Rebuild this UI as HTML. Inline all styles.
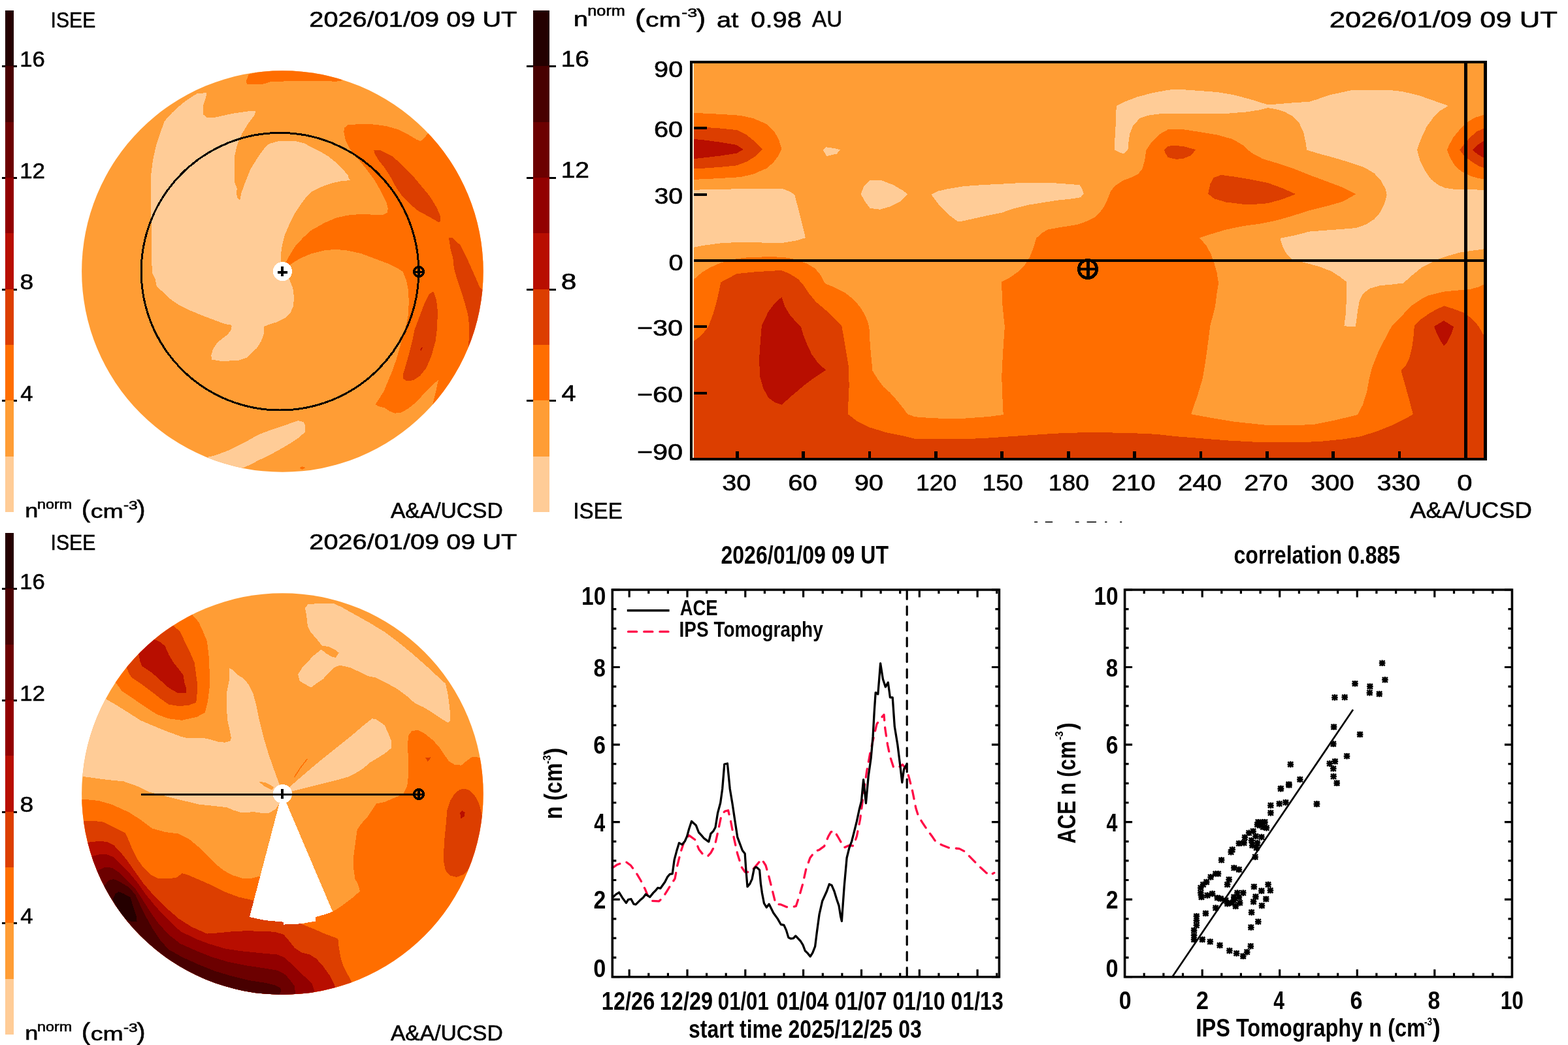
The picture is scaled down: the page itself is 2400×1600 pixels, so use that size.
<!DOCTYPE html>
<html lang="en"><head><meta charset="utf-8"><title>IPS Tomography density</title>
<style>
html,body{margin:0;padding:0;background:#fff;}
body{width:2400px;height:1600px;overflow:hidden;}
svg{display:block;position:absolute;left:0;top:0;}
text{font-family:"Liberation Sans",sans-serif;fill:#000;}
.n{font-family:"Liberation Sans",sans-serif;font-weight:bold;}
</style></head><body>
<svg width="2400" height="1600" viewBox="0 0 2400 1600">
<defs>
<clipPath id="clipTL"><circle cx="432.4" cy="415.5" r="307.3"/></clipPath>
<clipPath id="clipBL"><circle cx="432.4" cy="1215.5" r="307.3"/></clipPath>
<clipPath id="clipMap"><rect x="1058" y="95" width="1216" height="608"/></clipPath>
</defs>
<rect width="2400" height="1600" fill="#fff"/>

<g shape-rendering="crispEdges">
<rect x="3" y="100.3" width="23" height="3" fill="#000"/>
<rect x="3" y="271.0" width="23" height="3" fill="#000"/>
<rect x="3" y="441.7" width="23" height="3" fill="#000"/>
<rect x="3" y="612.3" width="23" height="3" fill="#000"/>
<rect x="8" y="16.00" width="13" height="85.83" fill="#240000"/>
<rect x="8" y="101.33" width="13" height="85.83" fill="#480000"/>
<rect x="8" y="186.67" width="13" height="85.83" fill="#6c0000"/>
<rect x="8" y="272.00" width="13" height="85.83" fill="#920000"/>
<rect x="8" y="357.33" width="13" height="85.83" fill="#b80e00"/>
<rect x="8" y="442.67" width="13" height="85.83" fill="#dc3e00"/>
<rect x="8" y="528.00" width="13" height="85.83" fill="#ff6e00"/>
<rect x="8" y="613.33" width="13" height="85.83" fill="#ff9d35"/>
<rect x="8" y="698.67" width="13" height="85.33" fill="#ffcc97"/>
<g clip-path="url(#clipTL)">
<rect x="100" y="100" width="660" height="640" fill="#ff9d35"/>
<path d="M301.5 143.4L315.6 142.1L315.6 147.2L310.5 163.8L311.2 175.3L316.8 180.4L329.6 179.6L355.1 174.0L380.6 170.2L390.8 170.2L390.3 175.3L380.6 188.0L370.4 204.6L362.8 222.4L358.9 240.3L358.9 278.6L362.8 288.8L361.5 296.4L364.0 304.1L367.3 306.1L369.1 296.4L375.5 278.6L383.2 259.4L395.9 239.0L406.1 225.0L412.5 219.9L426.5 216.1L452.0 216.1L467.3 219.9L468.9 221.2L486.7 230.1L502.0 239.0L514.8 249.2L525.0 259.4L532.7 268.4L533.9 273.5L536.5 276.0L522.4 277.3L507.1 280.6L491.8 286.2L476.5 293.9L468.9 301.5L461.2 311.7L451.0 327.0L443.4 342.3L435.7 360.2L431.9 375.5L430.1 388.3L430.1 401.0L432.4 415.8L443.1 428.1L448.2 440.8L450.0 454.8L449.0 468.9L444.4 479.1L436.7 486.7L424.0 493.1L411.2 496.9L404.1 500.0L403.6 512.2L399.7 522.4L393.4 532.7L378.1 547.4L365.3 551.8L339.8 553.1L324.5 550.5L323.2 544.1L325.8 535.2L332.1 525.0L339.8 518.6L348.7 512.2L353.8 504.6L354.6 499.5L352.6 496.9L344.9 496.4L329.6 490.6L309.2 482.9L288.8 474.5L273.5 466.8L258.2 456.1L248.0 445.9L239.8 438.3L237.8 428.1L233.2 417.9L232.7 400.0L232.7 418.9L231.4 329.6L231.4 265.8L233.9 245.4L239.0 222.4L246.7 199.5L251.8 185.5L263.3 172.7L278.6 158.7L291.3 149.7Z" fill="#ffcc97" />
<path d="M318.1 699.7L329.6 697.2L350.0 689.5L375.5 676.8L395.9 665.3L416.3 657.7L439.3 650.0L455.9 644.1L464.8 646.2L467.3 651.3L466.8 661.5L457.1 670.4L439.3 681.9L418.9 693.4L395.9 704.8L380.6 712.5L371.7 716.3L339.8 721.4Z" fill="#ffcc97" />
<path d="M655.1 204.1L648.7 212.2L643.6 216.1L637.2 213.5L624.5 205.9L609.2 198.2L591.3 193.1L573.5 190.6L553.1 189.8L532.7 191.3L527.0 195.7L526.3 202.0L528.8 214.8L535.2 227.6L545.4 240.3L558.2 255.6L573.5 276.0L583.7 293.9L591.3 309.2L593.9 319.4L592.6 325.8L586.2 328.8L573.5 328.8L553.1 327.8L532.7 329.6L514.8 333.4L496.9 341.1L476.5 352.6L463.8 364.0L451.0 378.1L443.4 390.8L437.8 401.0L432.4 415.8L444.6 404.8L458.7 395.9L476.5 388.3L496.9 383.2L514.8 381.9L532.7 383.7L553.1 388.3L573.5 395.9L593.9 403.6L609.2 411.2L616.8 416.3L621.9 429.1L625.0 444.4L625.8 462.2L625.8 463.8L624.5 484.2L621.9 496.9L616.8 514.8L611.7 532.7L606.6 550.5L600.3 568.4L593.9 583.7L587.5 599.0L581.1 609.2L574.7 618.9L578.6 621.9L588.8 624.5L596.4 629.6L604.1 632.7L614.3 631.6L624.5 625.8L637.2 615.6L650.0 601.5L662.8 588.8L670.9 581.6L667.9 596.4L664.0 611.7L662.2 619.4L757.1 619.4L757.1 204.1Z" fill="#ff6e00" />
<path d="M376.8 124.2L380.6 114.0L431.6 100.0L476.5 100.0L525.0 123.0L514.8 124.7L496.9 124.2L451.0 123.7L412.8 125.5L401.0 129.3L378.1 129.3Z" fill="#ff6e00" />
<path d="M458.2 716.3L462.5 714.3L467.6 716.3L462.5 718.9Z" fill="#ff6e00" />
<path d="M572.2 229.6L582.4 230.1L601.5 239.8L616.8 254.3L632.1 269.6L644.9 284.9L657.7 300.3L667.9 316.8L673.5 329.6L674.5 339.3L670.4 339.8L665.3 336.7L652.6 329.6L638.5 321.9L627.0 311.7L615.6 300.3L606.6 287.5L597.7 270.9L588.8 256.9L578.6 244.1L573.5 235.2Z" fill="#dc3e00" />
<path d="M687.0 364.5L692.1 364.0L704.8 375.5L713.8 393.4L724.0 416.3L734.2 439.3L738.0 443.4L757.1 443.4L757.1 532.7L717.1 531.4L718.4 502.0L716.3 481.6L709.9 458.7L702.3 435.7L695.9 415.3L693.4 400.0L694.6 411.2L693.4 395.9L689.5 380.6Z" fill="#dc3e00" />
<path d="M662.8 446.4L656.4 451.0L650.0 463.8L642.3 484.2L634.7 504.6L630.9 522.4L625.8 542.9L620.7 560.7L616.8 573.5L617.3 579.8L621.9 582.9L632.1 582.4L642.3 576.0L652.6 563.3L660.2 545.4L666.6 522.4L669.1 502.0L669.9 476.5L667.9 458.7L664.0 447.2Z" fill="#dc3e00" />
<path d="M643.1 535.7L645.9 531.1L647.2 532.1L644.4 536.7Z" fill="#b80e00" />
</g>
<circle cx="428.5" cy="415.7" r="212.3" fill="none" stroke="#000" stroke-width="3"/>
<circle cx="432.4" cy="415.6" r="14.6" fill="#fff"/>
<path d="M425 416.5H440M432.1 408V423" stroke="#000" stroke-width="4" fill="none"/>
<circle cx="641" cy="416" r="7.3" fill="none" stroke="#000" stroke-width="3.5"/>
<path d="M632.5 416.3H649.5M641 407.5V424.5" stroke="#000" stroke-width="3.4" fill="none"/>
<rect x="806" y="100.3" width="45" height="3" fill="#000"/>
<rect x="806" y="271.0" width="45" height="3" fill="#000"/>
<rect x="806" y="441.7" width="45" height="3" fill="#000"/>
<rect x="806" y="612.3" width="45" height="3" fill="#000"/>
<rect x="816" y="16.00" width="25" height="85.83" fill="#240000"/>
<rect x="816" y="101.33" width="25" height="85.83" fill="#480000"/>
<rect x="816" y="186.67" width="25" height="85.83" fill="#6c0000"/>
<rect x="816" y="272.00" width="25" height="85.83" fill="#920000"/>
<rect x="816" y="357.33" width="25" height="85.83" fill="#b80e00"/>
<rect x="816" y="442.67" width="25" height="85.83" fill="#dc3e00"/>
<rect x="816" y="528.00" width="25" height="85.83" fill="#ff6e00"/>
<rect x="816" y="613.33" width="25" height="85.83" fill="#ff9d35"/>
<rect x="816" y="698.67" width="25" height="85.33" fill="#ffcc97"/>
<g clip-path="url(#clipMap)">
<rect x="1056" y="93" width="1219.5" height="611.7" fill="#ff9d35"/>
<path d="M1051.0 290.9L1076.5 290.4L1114.8 289.6L1153.1 288.8L1197.7 288.8L1209.2 293.4L1216.3 298.5L1220.7 315.1L1225.8 335.5L1229.6 350.8L1232.9 364.1L1219.4 368.2L1199.0 371.7L1173.5 371.7L1132.7 370.7L1102.0 372.5L1076.5 375.8L1051.0 380.9Z" fill="#ffcc97" />
<path d="M1259.7 229.6L1264.0 225.3L1278.1 227.1L1286.2 229.6L1280.6 235.5L1265.3 239.1Z" fill="#ffcc97" />
<path d="M1317.6 297.2L1322.7 284.5L1331.6 275.6L1349.5 276.3L1367.3 283.2L1382.7 292.1L1389.0 297.2L1377.6 308.7L1362.2 316.4L1346.9 320.7L1331.6 318.9L1324.0 308.7Z" fill="#ffcc97" />
<path d="M1425.5 297.8L1435.7 292.7L1451.0 289.1L1476.5 285.0L1502.0 283.2L1537.8 281.4L1565.8 279.9L1609.2 279.9L1629.6 281.4L1652.6 283.2L1656.4 289.6L1658.9 296.7L1653.8 302.3L1639.8 304.4L1616.8 306.9L1593.9 310.5L1573.5 313.8L1553.1 318.9L1532.7 325.8L1512.2 329.9L1486.7 335.5L1472.7 338.6L1465.1 338.6L1451.0 327.9L1438.3 315.1L1430.6 304.9Z" fill="#ffcc97" />
<path d="M1708.7 162.0L1721.4 155.7L1741.8 148.0L1764.8 142.1L1787.8 137.8L1800.0 136.5L1830.6 138.6L1863.8 141.1L1889.3 145.5L1914.8 152.3L1937.8 159.5L1953.1 159.5L1978.6 157.4L2004.1 155.7L2016.8 151.8L2034.7 145.5L2055.1 141.1L2070.4 137.8L2126.5 137.8L2148.0 140.4L2173.5 146.7L2199.0 155.7L2216.8 162.0L2204.1 169.7L2193.9 179.9L2183.7 193.9L2176.0 210.5L2170.9 223.3L2169.1 229.6L2173.5 246.2L2181.1 261.5L2190.1 274.3L2201.5 283.2L2211.7 287.8L2224.5 289.6L2241.1 290.1L2280.6 290.9L2280.6 380.9L2270.9 381.4L2255.1 383.5L2234.7 386.5L2216.8 391.6L2201.5 396.7L2191.3 402.1L2176.0 409.7L2163.3 419.9L2148.0 433.5L2132.7 435.3L2112.2 437.3L2096.9 441.6L2086.7 449.3L2081.1 459.5L2078.6 472.2L2076.5 487.6L2074.7 500.3L2066.3 500.3L2057.4 499.0L2059.9 479.9L2060.7 462.0L2060.7 431.4L2051.0 423.8L2038.3 415.6L2020.4 408.5L2000.0 402.9L1978.6 397.8L1969.6 389.3L1963.3 377.9L1959.4 365.1L1959.4 364.8L1978.6 361.0L2004.1 354.6L2029.6 352.6L2055.1 350.8L2075.5 349.0L2090.8 343.7L2103.6 335.5L2112.5 325.3L2118.9 312.6L2122.7 298.5L2120.9 289.6L2113.8 276.8L2103.6 265.4L2088.3 256.4L2067.9 249.3L2042.3 241.6L2016.8 234.7L2000.3 229.6L1998.5 218.2L1995.2 202.9L1988.8 188.8L1978.6 177.9L1965.8 171.0L1953.1 167.1L1940.3 165.1L1927.6 168.4L1907.1 171.5L1881.6 173.5L1825.5 173.5L1775.0 174.3L1757.1 176.8L1744.4 181.2L1734.2 192.7L1729.1 205.4L1727.3 218.2L1726.5 228.4L1720.2 235.5L1712.5 233.0L1706.1 229.6L1706.1 218.2L1707.9 187.6Z" fill="#ffcc97" />
<path d="M1051.0 172.8L1076.5 173.5L1102.0 174.8L1132.7 176.8L1153.1 181.2L1173.5 190.1L1186.2 202.9L1192.6 215.6L1196.4 228.4L1191.3 238.6L1183.7 248.8L1173.5 257.7L1153.1 266.6L1132.7 271.2L1102.0 273.0L1076.5 274.3L1051.0 275.1Z" fill="#ff6e00" />
<path d="M2280.6 176.1L2270.9 176.1L2257.7 179.9L2244.9 187.6L2234.7 197.8L2224.5 210.5L2218.1 222.0L2214.8 229.6L2219.4 241.1L2227.0 253.9L2237.2 262.8L2250.0 269.2L2262.8 273.0L2270.9 274.3L2280.6 274.3Z" fill="#ff6e00" />
<path d="M1051.0 436.5L1060.7 428.9L1074.0 417.4L1086.7 409.7L1102.0 402.9L1122.4 397.0L1142.9 394.4L1173.5 393.2L1199.0 393.7L1216.8 397.0L1234.7 403.4L1247.4 411.0L1255.1 419.9L1262.8 434.0L1278.1 440.4L1293.4 448.0L1306.1 458.2L1316.3 469.7L1324.0 482.4L1329.1 495.2L1331.1 508.0L1331.6 525.8L1333.7 548.8L1335.5 567.9L1344.4 581.9L1352.0 592.1L1362.2 601.1L1372.4 612.6L1382.7 625.3L1389.0 634.2L1400.0 638.1L1412.8 639.3L1438.3 640.6L1476.5 640.6L1512.2 638.1L1535.7 635.0L1534.7 615.1L1533.2 576.8L1535.2 538.6L1537.8 500.3L1533.9 462.0L1533.2 431.4L1545.4 425.1L1558.2 416.1L1568.4 405.9L1576.0 394.2L1581.1 381.4L1586.2 364.8L1593.9 357.2L1604.1 351.3L1624.5 347.8L1650.0 343.7L1665.3 338.1L1675.5 333.0L1683.2 325.3L1690.8 315.1L1695.9 303.6L1699.7 293.4L1706.1 285.0L1718.9 276.3L1731.6 271.7L1741.8 266.6L1748.2 259.0L1752.0 246.2L1754.6 229.6L1762.2 218.2L1775.0 205.4L1787.8 198.3L1800.0 197.8L1812.8 198.5L1838.3 202.3L1863.8 206.7L1886.7 213.1L1902.0 222.0L1914.8 233.5L1932.7 243.2L1953.1 249.3L1978.6 257.7L2004.1 267.9L2029.6 277.3L2055.1 287.0L2075.5 297.2L2055.1 308.7L2029.6 315.9L2004.1 322.2L1978.6 330.4L1953.1 337.6L1927.6 342.7L1902.0 346.2L1876.5 351.6L1851.0 359.2L1835.7 364.1L1845.9 375.3L1853.6 389.3L1858.2 402.1L1862.5 417.4L1865.1 434.0L1862.5 449.3L1859.9 469.7L1852.3 499.0L1848.5 528.4L1844.6 556.4L1840.8 579.4L1833.2 604.9L1823.0 634.2L1851.0 639.3L1889.3 645.7L1937.8 650.8L1978.6 650.8L2009.2 650.3L2042.3 643.7L2078.1 635.0L2085.7 620.2L2092.1 599.8L2095.9 579.4L2099.7 564.1L2108.7 541.1L2118.9 520.7L2130.4 499.0L2144.4 485.0L2159.7 468.4L2175.0 458.2L2187.8 451.8L2188.8 451.8L2209.2 446.7L2229.6 444.7L2250.0 442.9L2262.8 439.6L2270.9 435.3L2280.6 434.0L2280.6 717.1L1051.0 717.1Z" fill="#ff6e00" />
<path d="M1051.0 193.9L1076.5 194.7L1102.0 196.5L1127.6 199.0L1142.9 206.7L1155.6 216.9L1167.1 228.9L1155.6 239.8L1142.9 247.5L1127.6 253.4L1102.0 255.9L1076.5 257.7L1051.0 259.0Z" fill="#dc3e00" />
<path d="M2280.6 196.5L2270.9 196.5L2260.2 201.6L2250.0 210.5L2241.1 220.7L2234.2 229.6L2241.1 238.6L2252.6 247.5L2262.8 253.9L2270.9 256.9L2280.6 256.9Z" fill="#dc3e00" />
<path d="M1782.1 229.6L1787.8 223.8L1800.0 222.8L1812.8 224.5L1830.1 229.1L1823.0 238.1L1810.2 243.2L1800.0 243.7L1787.8 241.1L1783.9 234.7Z" fill="#dc3e00" />
<path d="M1849.2 296.7L1852.3 281.9L1857.4 272.2L1868.9 267.9L1889.3 270.5L1914.8 274.8L1940.3 279.9L1963.3 288.3L1983.2 297.2L1963.3 304.9L1940.3 311.3L1922.4 312.6L1902.0 312.6L1876.5 309.5L1858.7 304.4Z" fill="#dc3e00" />
<path d="M1051.0 530.9L1060.7 523.3L1074.0 513.1L1084.2 500.3L1091.8 479.9L1098.2 456.9L1103.3 432.2L1127.6 419.2L1153.1 416.6L1178.6 414.8L1196.4 414.1L1209.2 419.4L1221.9 427.6L1229.6 436.5L1237.2 448.0L1248.7 462.0L1265.3 476.1L1278.1 488.8L1288.3 499.0L1290.8 513.1L1294.6 536.0L1298.5 559.0L1299.7 589.6L1298.5 615.1L1298.0 634.2L1311.2 644.4L1331.6 654.6L1357.1 662.3L1382.7 667.4L1400.0 671.7L1425.5 671.7L1466.3 672.5L1502.0 671.2L1532.7 669.2L1578.6 666.1L1616.8 663.6L1655.1 662.3L1693.4 662.3L1731.6 663.1L1769.9 664.8L1800.0 668.2L1838.3 671.2L1876.5 674.3L1922.4 676.8L1978.6 677.1L2016.8 676.3L2055.1 672.5L2080.6 668.7L2106.1 661.0L2131.6 650.8L2152.0 640.6L2162.8 634.2L2157.1 612.6L2150.8 589.6L2144.4 567.1L2152.0 559.0L2157.1 548.8L2161.0 533.5L2163.5 515.6L2164.8 499.0L2175.0 488.8L2187.8 479.9L2199.0 473.5L2210.5 468.4L2224.5 472.8L2239.8 478.6L2252.6 487.6L2262.8 499.0L2270.9 513.1L2280.6 523.3L2280.6 717.1L1051.0 717.1Z" fill="#dc3e00" />
<path d="M1051.0 211.8L1076.5 214.3L1102.0 217.7L1127.6 222.0L1137.8 228.9L1127.6 234.7L1102.0 238.6L1076.5 241.6L1051.0 244.2Z" fill="#b80e00" />
<path d="M2280.6 215.6L2270.9 215.6L2262.8 221.2L2253.8 229.6L2261.5 236.0L2270.9 241.6L2280.6 241.6Z" fill="#b80e00" />
<path d="M1196.4 454.9L1201.5 469.7L1209.2 482.4L1219.4 493.9L1225.8 499.8L1229.6 513.1L1234.7 525.8L1242.3 542.4L1252.6 556.4L1264.0 566.6L1244.9 579.4L1229.6 590.9L1211.7 606.2L1196.4 619.7L1186.2 616.4L1176.0 608.7L1168.4 594.7L1163.3 576.8L1162.0 551.3L1163.8 523.3L1165.8 499.0L1176.0 477.3L1183.7 467.1L1191.3 459.5Z" fill="#b80e00" />
<path d="M2195.2 499.8L2209.9 490.9L2225.0 500.3L2220.7 513.1L2215.6 523.3L2209.9 529.6L2204.1 520.7L2199.0 510.5Z" fill="#b80e00" />
</g>
<path d="M1055.6 95H2275.9 M1055.6 702.7H2275.9 M1058 398.9H2273.5M1058 196.2H1082M1058 297.8H1082M1058 499.8H1082M1058 601.8H1082" stroke="#000" stroke-width="3.8" fill="none"/>
<path d="M1058 95V702.7 M2273.5 95V702.7 M2243.6 95V702.7M1128.3 702.7V691.2M1229.7 702.7V691.2M1331.0 702.7V691.2M1432.4 702.7V691.2M1533.8 702.7V691.2M1635.2 702.7V691.2M1736.5 702.7V691.2M1837.9 702.7V691.2M1939.3 702.7V691.2M2040.6 702.7V691.2M2142.0 702.7V691.2" stroke="#000" stroke-width="4.8" fill="none"/>
<rect x="1060.4" y="97" width="1.6" height="603.8" fill="#ffe9d2"/>
<circle cx="1665" cy="412" r="13.7" fill="none" stroke="#000" stroke-width="4.6"/>
<path d="M1665.5 398.5V428" stroke="#000" stroke-width="4.8" fill="none"/>
<path d="M1649 412.1H1681" stroke="#000" stroke-width="3.9" fill="none"/>
<rect x="3" y="900.3" width="23" height="3" fill="#000"/>
<rect x="3" y="1071.0" width="23" height="3" fill="#000"/>
<rect x="3" y="1241.7" width="23" height="3" fill="#000"/>
<rect x="3" y="1412.3" width="23" height="3" fill="#000"/>
<rect x="8" y="816.00" width="13" height="85.83" fill="#240000"/>
<rect x="8" y="901.33" width="13" height="85.83" fill="#480000"/>
<rect x="8" y="986.67" width="13" height="85.83" fill="#6c0000"/>
<rect x="8" y="1072.00" width="13" height="85.83" fill="#920000"/>
<rect x="8" y="1157.33" width="13" height="85.83" fill="#b80e00"/>
<rect x="8" y="1242.67" width="13" height="85.83" fill="#dc3e00"/>
<rect x="8" y="1328.00" width="13" height="85.83" fill="#ff6e00"/>
<rect x="8" y="1413.33" width="13" height="85.83" fill="#ff9d35"/>
<rect x="8" y="1498.67" width="13" height="85.33" fill="#ffcc97"/>
<g clip-path="url(#clipBL)">
<rect x="100" y="900" width="660" height="640" fill="#ff9d35"/>
<path d="M151.0 1063.3L162.5 1070.4L176.5 1078.6L196.9 1091.3L214.8 1102.8L232.7 1110.5L253.1 1118.9L278.6 1128.3L288.8 1130.4L309.2 1129.6L321.9 1132.1L334.7 1136.0L344.9 1136.7L352.6 1134.2L353.8 1129.6L351.3 1116.8L348.0 1101.5L346.7 1078.6L347.4 1058.2L351.3 1039.0L351.3 1023.0L355.1 1025.0L362.8 1032.7L373.0 1039.0L380.6 1048.0L387.0 1060.7L392.1 1078.6L397.2 1104.1L403.6 1129.6L411.2 1155.1L420.2 1180.6L427.8 1201.0L432.1 1215.8L426.5 1231.6L421.4 1239.3L411.2 1244.9L401.0 1244.9L388.3 1243.1L370.4 1244.4L357.7 1240.6L347.4 1236.2L329.6 1234.2L304.1 1231.6L278.6 1225.3L253.1 1218.9L227.6 1212.5L209.7 1203.6L189.3 1196.4L163.8 1193.9L140.8 1190.8L125.5 1188.8L112.8 1187.0L112.8 1063.3Z" fill="#ffcc97" />
<path d="M466.8 930.6L471.4 925.5L484.2 924.2L511.0 924.2L522.4 929.3L542.9 940.8L565.8 953.6L588.8 967.6L609.2 982.9L629.6 999.5L650.0 1017.3L667.9 1033.9L681.9 1046.7L685.7 1063.3L688.3 1083.7L689.5 1102.8L685.7 1106.6L675.5 1100.3L660.2 1090.1L647.4 1082.4L634.7 1076.5L624.5 1067.1L609.2 1055.6L591.3 1045.4L576.0 1037.8L563.3 1035.2L550.5 1028.8L535.2 1021.9L519.9 1018.6L511.0 1022.4L502.0 1031.4L494.4 1039.8L484.2 1046.7L476.0 1052.6L458.7 1042.9L456.1 1032.7L462.5 1022.4L479.1 1004.6L491.8 994.4L499.5 1000.8L507.1 1005.1L513.5 1007.1L518.6 999.5L512.2 994.4L502.0 989.8L493.1 988.8L484.2 977.8L475.3 967.6L470.9 958.7L468.9 940.8Z" fill="#ffcc97" />
<path d="M432.4 1215.8L443.4 1204.8L463.8 1187.0L489.3 1165.3L514.8 1144.9L540.3 1124.5L558.2 1109.2L569.6 1100.3L576.0 1101.5L588.8 1110.5L593.9 1121.9L599.0 1134.7L599.0 1145.4L588.8 1153.8L578.6 1160.2L565.8 1167.9L555.6 1176.8L545.4 1183.2L532.7 1189.5L514.8 1194.6L496.9 1199.0L476.5 1204.1L456.1 1209.2L445.9 1211.7Z" fill="#ffcc97" />
<path d="M395.9 1196.7L406.1 1198.0L418.9 1204.8L416.3 1209.9L406.1 1204.8Z" fill="#ff9d35" />
<path d="M293.9 940.8L304.1 952.3L310.5 966.3L316.8 981.6L319.4 1002.0L320.7 1027.6L320.7 1053.1L318.1 1073.5L313.8 1090.8L301.5 1097.7L278.6 1102.8L258.2 1100.3L240.3 1093.9L222.4 1082.4L202.0 1068.4L186.7 1058.2L177.8 1045.9L151.0 1027.6L151.0 925.5L278.6 925.5Z" fill="#ff6e00" />
<path d="M112.8 1222.4L125.5 1223.5L151.0 1226.0L171.4 1231.9L196.9 1243.4L214.8 1254.8L232.7 1268.4L253.1 1274.0L273.5 1276.5L288.8 1284.2L304.1 1296.9L316.8 1309.7L329.6 1322.4L342.3 1332.7L355.1 1339.8L370.4 1344.6L385.7 1344.6L398.0 1341.6L509.2 1395.9L522.4 1387.5L537.8 1376.0L551.0 1364.5L548.0 1354.3L543.4 1345.4L540.8 1327.6L541.6 1307.1L544.1 1289.3L546.7 1270.2L553.1 1261.2L563.3 1249.7L570.9 1238.3L576.0 1230.6L588.8 1227.8L604.1 1221.4L616.8 1216.3L623.2 1203.6L625.0 1188.3L625.0 1167.9L624.0 1137.2L625.8 1124.5L630.9 1118.9L639.8 1118.1L650.0 1123.2L662.8 1133.4L673.0 1144.9L680.6 1156.4L687.0 1165.3L695.9 1170.9L706.1 1171.7L713.8 1165.3L722.7 1158.9L734.2 1159.7L769.9 1159.7L769.9 1557.1L112.8 1557.1Z" fill="#ff6e00" />
<path d="M450.3 1190.3L459.9 1175.5L470.2 1162.2" fill="none" stroke="#ff6e00" stroke-width="1.5" />
<path d="M265.8 958.2L276.0 967.6L282.4 981.6L290.1 996.9L297.7 1014.8L301.5 1042.9L301.5 1063.3L300.3 1075.5L288.8 1079.8L273.5 1081.1L258.2 1078.6L245.4 1069.6L232.7 1059.4L217.3 1048.0L202.0 1037.8L196.9 1030.1L193.9 1021.9L163.8 1002.0L227.6 938.3Z" fill="#dc3e00" />
<path d="M112.8 1257.1L128.1 1257.1L145.9 1257.1L158.7 1258.7L176.5 1267.6L191.8 1275.3L198.2 1289.3L203.3 1302.0L209.7 1314.8L219.9 1328.8L230.1 1339.0L241.6 1344.6L263.3 1344.6L270.9 1343.4L278.6 1337.0L286.2 1339.0L304.1 1346.7L324.5 1355.6L344.9 1365.8L365.3 1373.5L387.8 1378.6L461.2 1414.8L476.5 1420.7L496.9 1429.6L517.3 1437.2L518.6 1450.0L521.2 1465.3L525.0 1478.1L530.1 1488.3L535.2 1497.2L538.5 1503.6L542.9 1531.6L112.8 1557.1Z" fill="#dc3e00" />
<path d="M684.4 1240.8L689.5 1225.5L695.9 1215.3L703.6 1208.9L711.2 1207.7L718.9 1210.2L726.5 1217.9L732.9 1229.3L736.7 1243.4L738.0 1251.0L769.9 1251.0L769.9 1330.1L717.6 1330.1L709.9 1339.0L698.5 1342.9L688.3 1340.3L681.9 1332.7L679.3 1319.9L679.3 1302.0L680.6 1281.6L682.7 1261.2Z" fill="#dc3e00" />
<path d="M651.3 1160.2L658.9 1159.4L658.2 1162.8L654.6 1165.8Z" fill="#dc3e00" />
<path d="M236.5 979.1L245.4 982.9L252.6 989.3L258.2 1002.0L265.8 1014.8L276.0 1027.6L280.6 1033.9L282.4 1045.4L284.9 1053.1L284.9 1061.2L272.2 1061.2L258.2 1053.1L245.4 1041.6L232.7 1030.1L217.3 1019.9L214.3 1012.2L212.2 1001.5L189.3 989.3Z" fill="#b80e00" />
<path d="M112.8 1290.6L134.4 1289.8L151.0 1288.0L163.8 1288.8L174.0 1293.9L184.2 1304.6L194.4 1317.3L207.1 1335.2L219.9 1353.1L235.2 1370.9L253.1 1388.8L273.5 1406.6L293.9 1419.4L316.8 1429.6L334.7 1428.3L355.1 1426.3L375.5 1425.3L406.1 1425.8L421.4 1427.0L434.2 1430.9L440.8 1438.5L451.0 1451.3L461.2 1458.2L474.0 1461.5L484.2 1467.9L494.4 1479.3L504.6 1493.4L509.7 1503.6L513.5 1511.7L517.3 1531.6L112.8 1557.1Z" fill="#b80e00" />
<path d="M704.1 1244.6L707.4 1241.3L711.7 1243.9L710.7 1249.7L705.6 1253.6Z" fill="#b80e00" />
<path d="M112.8 1312.2L140.8 1311.0L151.0 1308.4L163.8 1308.4L174.0 1312.2L184.2 1322.4L196.9 1335.2L209.7 1350.5L222.4 1368.4L237.8 1387.5L255.6 1406.6L276.0 1425.8L299.0 1437.2L319.4 1444.9L344.9 1452.6L370.4 1456.4L395.9 1458.9L424.0 1461.5L434.2 1465.3L444.4 1474.2L457.1 1487.0L469.9 1498.5L477.6 1506.1L481.4 1517.6L485.2 1544.4L112.8 1557.1Z" fill="#920000" />
<path d="M112.8 1337.8L149.7 1332.7L161.2 1327.6L171.4 1328.8L181.6 1335.2L194.4 1348.0L207.1 1360.7L217.3 1376.0L230.1 1396.4L242.9 1414.3L258.2 1430.9L276.0 1444.9L299.0 1455.1L324.5 1465.3L350.0 1473.0L375.5 1478.1L401.0 1481.9L424.0 1485.7L436.7 1492.1L444.4 1501.0L450.8 1509.9L452.0 1520.2L453.3 1544.4L112.8 1557.1Z" fill="#6c0000" />
<path d="M112.8 1363.3L159.9 1355.6L166.3 1348.0L174.0 1345.9L184.2 1350.5L196.9 1358.2L207.1 1369.6L214.8 1386.2L225.0 1406.6L235.2 1424.5L245.4 1439.8L258.2 1453.8L278.6 1465.3L304.1 1476.8L329.6 1487.0L355.1 1494.6L380.6 1501.0L406.1 1504.8L421.4 1508.7L429.1 1512.5L430.4 1517.6L427.8 1521.9L426.5 1544.4L112.8 1557.1Z" fill="#480000" />
<path d="M172.7 1377.3L176.5 1368.4L181.6 1365.3L189.3 1368.4L199.5 1373.5L203.3 1386.2L208.4 1401.5L209.7 1411.2L202.0 1411.2L193.1 1407.9L181.6 1393.9Z" fill="#240000" />
<path d="M432.1 1215.8L427.8 1229.3L381.9 1404.1L406.1 1409.2L434.2 1411.7L434.2 1415.6L461.2 1414.3L482.9 1410.5L482.9 1404.1L496.9 1400.3L509.2 1395.9L438.3 1229.3Z" fill="#fff" />
</g>
<circle cx="432.4" cy="1215.6" r="14.6" fill="#fff"/>
<path d="M216 1216.4H641" stroke="#000" stroke-width="3.4" fill="none"/>
<path d="M432.1 1208V1223" stroke="#000" stroke-width="4" fill="none"/>
<circle cx="641" cy="1216" r="7.3" fill="none" stroke="#000" stroke-width="3.5"/>
<path d="M632.5 1216.3H649.5M641 1207.5V1224.5" stroke="#000" stroke-width="3.4" fill="none"/>
</g>
<text transform="translate(77.61 41.50) scale(0.8963 1)" font-size="33.60" font-weight="normal" stroke="#000" stroke-width="0.6" >ISEE</text>
<text transform="translate(473.31 41.40) scale(1.2118 1)" font-size="32.80" font-weight="normal" stroke="#000" stroke-width="0.6" >2026/01/09 09 UT</text>
<text transform="translate(30.20 101.93) scale(1.0567 1)" font-size="32.80" font-weight="normal" stroke="#000" stroke-width="0.6" >16</text>
<text transform="translate(30.18 272.60) scale(1.0648 1)" font-size="32.80" font-weight="normal" stroke="#000" stroke-width="0.6" >12</text>
<text transform="translate(30.42 443.27) scale(1.1352 1)" font-size="32.80" font-weight="normal" stroke="#000" stroke-width="0.6" >8</text>
<text transform="translate(31.22 613.93) scale(1.0565 1)" font-size="32.80" font-weight="normal" stroke="#000" stroke-width="0.6" >4</text>
<text transform="translate(38.36 792.30) scale(1.2276 1)" font-size="29.50" font-weight="normal" stroke="#000" stroke-width="0.6" >n</text>
<text transform="translate(57.12 778.70) scale(1.1122 1)" font-size="21.00" font-weight="normal" stroke="#000" stroke-width="0.6" >norm</text>
<text transform="translate(124.68 792.30) scale(1.1217 1)" font-size="36.00" font-weight="normal" stroke="#000" stroke-width="0.6" >(</text>
<text transform="translate(138.71 792.80) scale(1.2701 1)" font-size="29.50" font-weight="normal" stroke="#000" stroke-width="0.6" >cm</text>
<text transform="translate(188.90 779.50) scale(1.3542 1)" font-size="18.00" font-weight="normal" stroke="#000" stroke-width="0.6" >-3</text>
<text transform="translate(209.20 792.30) scale(1.1111 1)" font-size="36.00" font-weight="normal" stroke="#000" stroke-width="0.6" >)</text>
<text transform="translate(597.92 792.80) scale(1.0188 1)" font-size="33.00" font-weight="normal" stroke="#000" stroke-width="0.6" >A&amp;A/UCSD</text>
<text transform="translate(77.61 841.50) scale(0.8963 1)" font-size="33.60" font-weight="normal" stroke="#000" stroke-width="0.6" >ISEE</text>
<text transform="translate(473.31 841.40) scale(1.2118 1)" font-size="32.80" font-weight="normal" stroke="#000" stroke-width="0.6" >2026/01/09 09 UT</text>
<text transform="translate(30.20 901.93) scale(1.0567 1)" font-size="32.80" font-weight="normal" stroke="#000" stroke-width="0.6" >16</text>
<text transform="translate(30.18 1072.60) scale(1.0648 1)" font-size="32.80" font-weight="normal" stroke="#000" stroke-width="0.6" >12</text>
<text transform="translate(30.42 1243.27) scale(1.1352 1)" font-size="32.80" font-weight="normal" stroke="#000" stroke-width="0.6" >8</text>
<text transform="translate(31.22 1413.93) scale(1.0565 1)" font-size="32.80" font-weight="normal" stroke="#000" stroke-width="0.6" >4</text>
<text transform="translate(38.36 1592.30) scale(1.2276 1)" font-size="29.50" font-weight="normal" stroke="#000" stroke-width="0.6" >n</text>
<text transform="translate(57.12 1578.70) scale(1.1122 1)" font-size="21.00" font-weight="normal" stroke="#000" stroke-width="0.6" >norm</text>
<text transform="translate(124.68 1592.30) scale(1.1217 1)" font-size="36.00" font-weight="normal" stroke="#000" stroke-width="0.6" >(</text>
<text transform="translate(138.71 1592.80) scale(1.2701 1)" font-size="29.50" font-weight="normal" stroke="#000" stroke-width="0.6" >cm</text>
<text transform="translate(188.90 1579.50) scale(1.3542 1)" font-size="18.00" font-weight="normal" stroke="#000" stroke-width="0.6" >-3</text>
<text transform="translate(209.20 1592.30) scale(1.1111 1)" font-size="36.00" font-weight="normal" stroke="#000" stroke-width="0.6" >)</text>
<text transform="translate(597.92 1592.80) scale(1.0188 1)" font-size="33.00" font-weight="normal" stroke="#000" stroke-width="0.6" >A&amp;A/UCSD</text>
<text transform="translate(858.70 101.73) scale(1.1118 1)" font-size="34.80" font-weight="normal" stroke="#000" stroke-width="0.6" >16</text>
<text transform="translate(858.68 272.40) scale(1.1203 1)" font-size="34.80" font-weight="normal" stroke="#000" stroke-width="0.6" >12</text>
<text transform="translate(858.69 443.07) scale(1.2228 1)" font-size="34.80" font-weight="normal" stroke="#000" stroke-width="0.6" >8</text>
<text transform="translate(859.61 613.73) scale(1.1380 1)" font-size="34.80" font-weight="normal" stroke="#000" stroke-width="0.6" >4</text>
<text transform="translate(877.68 40.30) scale(1.2574 1)" font-size="32.00" font-weight="normal" stroke="#000" stroke-width="0.6" >n</text>
<text transform="translate(899.29 24.40) scale(1.1753 1)" font-size="21.50" font-weight="normal" stroke="#000" stroke-width="0.6" >norm</text>
<text transform="translate(971.77 41.00) scale(1.2015 1)" font-size="39.00" font-weight="normal" stroke="#000" stroke-width="0.6" >(</text>
<text transform="translate(988.07 40.60) scale(1.2755 1)" font-size="32.00" font-weight="normal" stroke="#000" stroke-width="0.6" >cm</text>
<text transform="translate(1043.29 25.50) scale(1.4145 1)" font-size="19.00" font-weight="normal" stroke="#000" stroke-width="0.6" >-3</text>
<text transform="translate(1065.67 41.00) scale(1.1136 1)" font-size="39.00" font-weight="normal" stroke="#000" stroke-width="0.6" >)</text>
<text transform="translate(1097.00 41.50) scale(1.1765 1)" font-size="34.00" font-weight="normal" stroke="#000" stroke-width="0.6" >at</text>
<text transform="translate(1149.20 41.60) scale(1.1479 1)" font-size="34.80" font-weight="normal" stroke="#000" stroke-width="0.6" >0.98</text>
<text transform="translate(1243.12 41.30) scale(0.9564 1)" font-size="34.80" font-weight="normal" stroke="#000" stroke-width="0.6" >AU</text>
<text transform="translate(2034.82 41.50) scale(1.2534 1)" font-size="34.80" font-weight="normal" stroke="#000" stroke-width="0.6" >2026/01/09 09 UT</text>
<text transform="translate(877.34 794.00) scale(0.9512 1)" font-size="34.80" font-weight="normal" stroke="#000" stroke-width="0.6" >ISEE</text>
<text transform="translate(2158.21 792.70) scale(1.0495 1)" font-size="34.80" font-weight="normal" stroke="#000" stroke-width="0.6" >A&amp;A/UCSD</text>
<text transform="translate(1001.12 118.20) scale(1.1382 1)" font-size="34.80" font-weight="normal" stroke="#000" stroke-width="0.6" >90</text>
<text transform="translate(1001.01 210.10) scale(1.1410 1)" font-size="34.80" font-weight="normal" stroke="#000" stroke-width="0.6" >60</text>
<text transform="translate(1001.53 311.90) scale(1.1272 1)" font-size="34.80" font-weight="normal" stroke="#000" stroke-width="0.6" >30</text>
<text transform="translate(1023.41 413.60) scale(1.1434 1)" font-size="34.80" font-weight="normal" stroke="#000" stroke-width="0.6" >0</text>
<text transform="translate(974.83 513.90) scale(1.1923 1)" font-size="34.80" font-weight="normal" stroke="#000" stroke-width="0.6" >−30</text>
<text transform="translate(974.83 615.90) scale(1.1923 1)" font-size="34.80" font-weight="normal" stroke="#000" stroke-width="0.6" >−60</text>
<text transform="translate(974.83 703.80) scale(1.1923 1)" font-size="34.80" font-weight="normal" stroke="#000" stroke-width="0.6" >−90</text>
<text transform="translate(1105.31 751.20) scale(1.1383 1)" font-size="34.80" font-weight="normal" stroke="#000" stroke-width="0.6" >30</text>
<text transform="translate(1206.17 751.20) scale(1.1522 1)" font-size="34.80" font-weight="normal" stroke="#000" stroke-width="0.6" >60</text>
<text transform="translate(1307.64 751.20) scale(1.1494 1)" font-size="34.80" font-weight="normal" stroke="#000" stroke-width="0.6" >90</text>
<text transform="translate(1402.11 751.20) scale(1.0718 1)" font-size="34.80" font-weight="normal" stroke="#000" stroke-width="0.6" >120</text>
<text transform="translate(1503.48 751.20) scale(1.0718 1)" font-size="34.80" font-weight="normal" stroke="#000" stroke-width="0.6" >150</text>
<text transform="translate(1604.85 751.20) scale(1.0718 1)" font-size="34.80" font-weight="normal" stroke="#000" stroke-width="0.6" >180</text>
<text transform="translate(1701.51 751.20) scale(1.1549 1)" font-size="34.80" font-weight="normal" stroke="#000" stroke-width="0.6" >210</text>
<text transform="translate(1802.88 751.20) scale(1.1549 1)" font-size="34.80" font-weight="normal" stroke="#000" stroke-width="0.6" >240</text>
<text transform="translate(1904.25 751.20) scale(1.1549 1)" font-size="34.80" font-weight="normal" stroke="#000" stroke-width="0.6" >270</text>
<text transform="translate(2006.13 751.20) scale(1.1458 1)" font-size="34.80" font-weight="normal" stroke="#000" stroke-width="0.6" >300</text>
<text transform="translate(2107.50 751.20) scale(1.1458 1)" font-size="34.80" font-weight="normal" stroke="#000" stroke-width="0.6" >330</text>
<text transform="translate(2230.19 751.20) scale(1.2036 1)" font-size="34.80" font-weight="normal" stroke="#000" stroke-width="0.6" >0</text>
<rect x="1583.2" y="798.5" width="4.9" height="1.6" fill="#000"/>
<rect x="1599.8" y="798.5" width="11.3" height="1.6" fill="#000"/>
<rect x="1646.0" y="798.5" width="5.5" height="1.6" fill="#000"/>
<rect x="1663.6" y="798.5" width="14.4" height="1.6" fill="#000"/>
<rect x="1691.2" y="798.5" width="3.2" height="1.6" fill="#000"/>
<rect x="1714.2" y="798.5" width="3.0" height="1.6" fill="#000"/>
<path d="M937.3 1328.8L945.0 1323.7L957.8 1319.4L965.4 1325.0L973.1 1335.2L980.7 1348.0L987.1 1360.7L993.5 1376.0L998.6 1379.3L1008.8 1379.8L1015.2 1373.5L1021.5 1363.3L1027.9 1353.1L1033.0 1345.4L1036.8 1325.0L1041.9 1304.6L1047.0 1289.3L1054.7 1279.1L1063.6 1285.5L1070.0 1300.8L1075.1 1307.1L1082.8 1311.5L1087.9 1305.9L1094.2 1294.4L1099.3 1271.4L1104.4 1247.2L1109.5 1242.1L1114.6 1240.8L1118.5 1257.4L1123.6 1284.2L1128.7 1307.1L1135.1 1327.6L1140.2 1335.2L1149.1 1335.2L1155.5 1327.6L1165.7 1315.3L1172.0 1325.0L1177.1 1342.9L1182.2 1363.3L1187.3 1384.2L1195.3 1384.9L1204.2 1388.7L1210.6 1389.2L1218.3 1387.4L1223.4 1372.1L1228.5 1354.3L1233.6 1331.3L1239.9 1313.5L1247.6 1303.3L1254.0 1301.2L1261.6 1295.6L1268.0 1280.3L1271.8 1273.9L1276.9 1271.9L1282.0 1280.3L1287.1 1289.2L1292.2 1297.7L1299.9 1294.3L1306.3 1295.1L1311.4 1280.3L1316.5 1254.8L1321.6 1216.5L1326.7 1180.8L1331.8 1153.4L1336.9 1130.4L1342.0 1108.7L1347.1 1101.1L1353.0 1094.2L1354.7 1115.1L1358.6 1140.6L1362.4 1158.5L1367.5 1174.3L1373.4 1176.3L1381.5 1170.7L1387.9 1178.9L1391.7 1191.6L1396.8 1212.0L1401.9 1237.6L1405.8 1249.7L1412.1 1259.9L1419.8 1271.4L1427.4 1281.6L1432.6 1289.2L1442.8 1294.3L1453.0 1298.2L1468.3 1299.4L1475.9 1303.3L1483.6 1310.9L1491.2 1318.6L1501.4 1328.8L1509.1 1335.9L1514.2 1340.3L1521.8 1336.4" fill="none" stroke="#ff0a46" stroke-width="3.3" stroke-dasharray="13.2 11" stroke-linejoin="round" stroke-linecap="round"/>
<path d="M937.3 1374.7L942.4 1369.6L947.6 1366.3L952.7 1374.7L958.5 1382.4L961.6 1377.3L965.9 1376.5L970.0 1384.2L973.1 1384.9L979.4 1378.6L984.5 1374.2L988.4 1369.1L994.7 1373.5L999.8 1367.1L1003.7 1363.3L1006.7 1359.4L1010.8 1360.2L1017.7 1350.5L1021.5 1342.9L1025.4 1338.3L1029.2 1337.8L1032.2 1316.1L1035.6 1303.3L1039.4 1290.6L1044.0 1293.1L1048.3 1288.0L1051.6 1280.4L1054.7 1268.9L1058.5 1257.4L1065.4 1263.8L1069.5 1274.5L1073.8 1279.1L1077.7 1283.7L1084.8 1288.8L1087.9 1276.5L1091.7 1272.7L1095.0 1266.8L1098.6 1244.6L1102.7 1229.3L1105.7 1207.7L1108.8 1170.0L1113.4 1169.0L1117.2 1207.7L1121.0 1230.6L1124.8 1256.1L1128.7 1281.6L1132.5 1291.8L1136.3 1302.0L1140.2 1307.1L1141.9 1332.7L1144.0 1357.7L1147.8 1353.1L1151.1 1345.9L1154.2 1330.1L1156.7 1327.6L1159.3 1328.8L1162.6 1332.1L1164.4 1353.1L1166.4 1367.1L1169.5 1383.2L1173.3 1389.3L1177.1 1384.2L1183.8 1397.7L1190.2 1406.6L1195.3 1415.5L1199.9 1416.3L1203.5 1424.4L1206.8 1435.4L1210.6 1437.2L1214.4 1436.7L1217.8 1432.9L1221.3 1436.7L1225.4 1441.0L1229.0 1446.9L1232.3 1455.8L1236.1 1459.4L1240.2 1464.5L1243.8 1458.9L1247.6 1449.2L1250.2 1428.3L1254.0 1400.2L1258.6 1379.8L1265.5 1364.5L1269.3 1353.8L1273.1 1355.6L1276.9 1364.5L1280.8 1377.2L1284.1 1386.9L1286.6 1402.8L1288.4 1410.4L1290.2 1384.9L1292.2 1356.8L1296.1 1313.5L1299.9 1298.2L1303.7 1288.0L1307.6 1272.7L1311.4 1257.3L1315.2 1239.5L1318.5 1226.7L1321.6 1193.6L1325.4 1229.8L1329.2 1188.5L1333.1 1161.0L1336.1 1127.9L1338.2 1089.6L1340.2 1060.3L1343.8 1062.8L1345.8 1038.6L1347.6 1015.6L1351.4 1039.8L1355.3 1051.8L1359.3 1044.9L1362.4 1067.9L1366.2 1067.9L1369.3 1112.6L1373.9 1140.6L1377.7 1171.2L1380.8 1198.0L1383.6 1177.6L1388.4 1169.4" fill="none" stroke="#000" stroke-width="3.3" stroke-linejoin="round"/>
<path d="M1388.2 904.5V1494.2" stroke="#000" stroke-width="3.2" stroke-dasharray="12.8 11.25" stroke-linecap="round" fill="none"/>
<path d="M959.8 934.8H1024.6" stroke="#000" stroke-width="3.4" fill="none"/>
<path d="M961.5 967.2H1023" stroke="#ff0a46" stroke-width="3.3" stroke-dasharray="13.2 11" stroke-linecap="round" fill="none"/>
<path d="M937.3 903H1529.4V1495.7H937.3Z" fill="none" stroke="#000" stroke-width="3.6" stroke-linejoin="miter"/>
<path d="M937.3 1495.7h11.5 M1529.4 1495.7h-11.5M937.3 1466.1h6 M1529.4 1466.1h-6M937.3 1436.4h6 M1529.4 1436.4h-6M937.3 1406.8h6 M1529.4 1406.8h-6M937.3 1377.2h11.5 M1529.4 1377.2h-11.5M937.3 1347.5h6 M1529.4 1347.5h-6M937.3 1317.9h6 M1529.4 1317.9h-6M937.3 1288.3h6 M1529.4 1288.3h-6M937.3 1258.6h11.5 M1529.4 1258.6h-11.5M937.3 1229.0h6 M1529.4 1229.0h-6M937.3 1199.3h6 M1529.4 1199.3h-6M937.3 1169.7h6 M1529.4 1169.7h-6M937.3 1140.1h11.5 M1529.4 1140.1h-11.5M937.3 1110.4h6 M1529.4 1110.4h-6M937.3 1080.8h6 M1529.4 1080.8h-6M937.3 1051.2h6 M1529.4 1051.2h-6M937.3 1021.5h11.5 M1529.4 1021.5h-11.5M937.3 991.9h6 M1529.4 991.9h-6M937.3 962.3h6 M1529.4 962.3h-6M937.3 932.6h6 M1529.4 932.6h-6M937.3 903.0h11.5 M1529.4 903.0h-11.5M963.2 1495.7v-11.5 M963.2 903v11.5M1052.0 1495.7v-11.5 M1052.0 903v11.5M1140.8 1495.7v-11.5 M1140.8 903v11.5M1229.6 1495.7v-11.5 M1229.6 903v11.5M1318.5 1495.7v-11.5 M1318.5 903v11.5M1407.3 1495.7v-11.5 M1407.3 903v11.5M1496.1 1495.7v-11.5 M1496.1 903v11.5M992.8 1495.7v-6 M992.8 903v6M1022.4 1495.7v-6 M1022.4 903v6M1081.6 1495.7v-6 M1081.6 903v6M1111.2 1495.7v-6 M1111.2 903v6M1170.4 1495.7v-6 M1170.4 903v6M1200.0 1495.7v-6 M1200.0 903v6M1259.3 1495.7v-6 M1259.3 903v6M1288.9 1495.7v-6 M1288.9 903v6M1348.1 1495.7v-6 M1348.1 903v6M1377.7 1495.7v-6 M1377.7 903v6M1436.9 1495.7v-6 M1436.9 903v6M1466.5 1495.7v-6 M1466.5 903v6M1525.7 1495.7v-6 M1525.7 903v6" fill="none" stroke="#000" stroke-width="3.2"/>
<text transform="translate(1040.71 942.40) scale(0.8193 1)" font-size="33.50" font-weight="bold" >ACE</text>
<text transform="translate(1039.51 974.80) scale(0.8353 1)" font-size="33.50" font-weight="bold" >IPS Tomography</text>
<text transform="translate(1103.48 862.90) scale(0.8093 1)" font-size="39.60" font-weight="bold" >2026/01/09 09 UT</text>
<text transform="translate(908.23 1496.00) scale(0.8666 1)" font-size="39.60" font-weight="bold" >0</text>
<text transform="translate(908.41 1391.26) scale(0.8575 1)" font-size="39.60" font-weight="bold" >2</text>
<text transform="translate(909.14 1272.72) scale(0.7694 1)" font-size="39.60" font-weight="bold" >4</text>
<text transform="translate(908.33 1154.18) scale(0.8531 1)" font-size="39.60" font-weight="bold" >6</text>
<text transform="translate(908.52 1035.64) scale(0.8358 1)" font-size="39.60" font-weight="bold" >8</text>
<text transform="translate(890.11 925.90) scale(0.8447 1)" font-size="39.60" font-weight="bold" >10</text>
<text transform="translate(920.77 1545.60) scale(0.8222 1)" font-size="39.60" font-weight="bold" >12/26</text>
<text transform="translate(1009.77 1545.60) scale(0.8201 1)" font-size="39.60" font-weight="bold" >12/29</text>
<text transform="translate(1098.85 1545.60) scale(0.7861 1)" font-size="39.60" font-weight="bold" >01/01</text>
<text transform="translate(1188.43 1545.60) scale(0.8046 1)" font-size="39.60" font-weight="bold" >01/04</text>
<text transform="translate(1277.73 1545.60) scale(0.8035 1)" font-size="39.60" font-weight="bold" >01/07</text>
<text transform="translate(1366.22 1545.60) scale(0.8110 1)" font-size="39.60" font-weight="bold" >01/10</text>
<text transform="translate(1455.52 1545.60) scale(0.8093 1)" font-size="39.60" font-weight="bold" >01/13</text>
<text transform="translate(1054.08 1589.00) scale(0.8063 1)" font-size="39.60" font-weight="bold" >start time 2025/12/25 03</text>
<text transform="translate(859.70 1254.30) rotate(-90) scale(0.8142 1)" font-size="39.60" font-weight="bold" >n (cm</text>
<text transform="translate(843.20 1169.39) rotate(-90) scale(0.8688 1)" font-size="17.00" font-weight="bold" >-3</text>
<text transform="translate(859.70 1156.59) rotate(-90) scale(0.8929 1)" font-size="39.60" font-weight="bold" >)</text>
<path d="M1822.8 1438.5h9.6M1827.6 1433.7v9.6M1823.6 1434.5l8 8M1831.6 1434.5l-8 8M1835.5 1438.5h9.6M1840.3 1433.7v9.6M1836.3 1434.5l8 8M1844.3 1434.5l-8 8M1847.5 1441.8h9.6M1852.3 1437.0v9.6M1848.3 1437.8l8 8M1856.3 1437.8l-8 8M1862.3 1447.4h9.6M1867.1 1442.6v9.6M1863.1 1443.4l8 8M1871.1 1443.4l-8 8M1877.1 1455.6h9.6M1881.9 1450.8v9.6M1877.9 1451.6l8 8M1885.9 1451.6l-8 8M1887.8 1459.7h9.6M1892.6 1454.9v9.6M1888.6 1455.7l8 8M1896.6 1455.7l-8 8M1898.0 1464.0h9.6M1902.8 1459.2v9.6M1898.8 1460.0l8 8M1906.8 1460.0l-8 8M1903.9 1457.7h9.6M1908.7 1452.9v9.6M1904.7 1453.7l8 8M1912.7 1453.7l-8 8M1909.5 1448.7h9.6M1914.3 1443.9v9.6M1910.3 1444.7l8 8M1918.3 1444.7l-8 8M1822.8 1432.1h9.6M1827.6 1427.3v9.6M1823.6 1428.1l8 8M1831.6 1428.1l-8 8M1822.8 1424.5h9.6M1827.6 1419.7v9.6M1823.6 1420.5l8 8M1831.6 1420.5l-8 8M1826.6 1416.8h9.6M1831.4 1412.0v9.6M1827.4 1412.8l8 8M1835.4 1412.8l-8 8M1826.6 1409.2h9.6M1831.4 1404.4v9.6M1827.4 1405.2l8 8M1835.4 1405.2l-8 8M1826.6 1402.8h9.6M1831.4 1398.0v9.6M1827.4 1398.8l8 8M1835.4 1398.8l-8 8M1840.6 1398.5h9.6M1845.4 1393.7v9.6M1841.4 1394.5l8 8M1849.4 1394.5l-8 8M1855.9 1390.1h9.6M1860.7 1385.3v9.6M1856.7 1386.1l8 8M1864.7 1386.1l-8 8M1910.0 1419.9h9.6M1914.8 1415.1v9.6M1910.8 1415.9l8 8M1918.8 1415.9l-8 8M1921.0 1411.2h9.6M1925.8 1406.4v9.6M1921.8 1407.2l8 8M1929.8 1407.2l-8 8M1910.8 1396.9h9.6M1915.6 1392.1v9.6M1911.6 1392.9l8 8M1919.6 1392.9l-8 8M1926.6 1386.7h9.6M1931.4 1381.9v9.6M1927.4 1382.7l8 8M1935.4 1382.7l-8 8M1913.8 1380.6h9.6M1918.6 1375.8v9.6M1914.6 1376.6l8 8M1922.6 1376.6l-8 8M1933.0 1376.5h9.6M1937.8 1371.7v9.6M1933.8 1372.5l8 8M1941.8 1372.5l-8 8M1917.1 1373.0h9.6M1921.9 1368.2v9.6M1917.9 1369.0l8 8M1925.9 1369.0l-8 8M1926.1 1364.0h9.6M1930.9 1359.2v9.6M1926.9 1360.0l8 8M1934.9 1360.0l-8 8M1914.6 1357.7h9.6M1919.4 1352.9v9.6M1915.4 1353.7l8 8M1923.4 1353.7l-8 8M1936.3 1354.3h9.6M1941.1 1349.5v9.6M1937.1 1350.3l8 8M1945.1 1350.3l-8 8M1939.6 1363.3h9.6M1944.4 1358.5v9.6M1940.4 1359.3l8 8M1948.4 1359.3l-8 8M1871.2 1378.6h9.6M1876.0 1373.8v9.6M1872.0 1374.6l8 8M1880.0 1374.6l-8 8M1878.9 1382.4h9.6M1883.7 1377.6v9.6M1879.7 1378.4l8 8M1887.7 1378.4l-8 8M1886.5 1387.5h9.6M1891.3 1382.7v9.6M1887.3 1383.5l8 8M1895.3 1383.5l-8 8M1892.9 1382.4h9.6M1897.7 1377.6v9.6M1893.7 1378.4l8 8M1901.7 1378.4l-8 8M1884.0 1373.5h9.6M1888.8 1368.7v9.6M1884.8 1369.5l8 8M1892.8 1369.5l-8 8M1891.6 1373.5h9.6M1896.4 1368.7v9.6M1892.4 1369.5l8 8M1900.4 1369.5l-8 8M1898.0 1367.1h9.6M1902.8 1362.3v9.6M1898.8 1363.1l8 8M1906.8 1363.1l-8 8M1889.1 1367.1h9.6M1893.9 1362.3v9.6M1889.9 1363.1l8 8M1897.9 1363.1l-8 8M1884.0 1378.6h9.6M1888.8 1373.8v9.6M1884.8 1374.6l8 8M1892.8 1374.6l-8 8M1873.8 1383.7h9.6M1878.6 1378.9v9.6M1874.6 1379.7l8 8M1882.6 1379.7l-8 8M1863.6 1376.0h9.6M1868.4 1371.2v9.6M1864.4 1372.0l8 8M1872.4 1372.0l-8 8M1858.5 1374.7h9.6M1863.3 1369.9v9.6M1859.3 1370.7l8 8M1867.3 1370.7l-8 8M1850.8 1368.4h9.6M1855.6 1363.6v9.6M1851.6 1364.4l8 8M1859.6 1364.4l-8 8M1843.2 1370.9h9.6M1848.0 1366.1v9.6M1844.0 1366.9l8 8M1852.0 1366.9l-8 8M1834.2 1373.5h9.6M1839.0 1368.7v9.6M1835.0 1369.5l8 8M1843.0 1369.5l-8 8M1833.0 1367.1h9.6M1837.8 1362.3v9.6M1833.8 1363.1l8 8M1841.8 1363.1l-8 8M1833.0 1359.4h9.6M1837.8 1354.6v9.6M1833.8 1355.4l8 8M1841.8 1355.4l-8 8M1836.8 1354.3h9.6M1841.6 1349.5v9.6M1837.6 1350.3l8 8M1845.6 1350.3l-8 8M1841.9 1350.5h9.6M1846.7 1345.7v9.6M1842.7 1346.5l8 8M1850.7 1346.5l-8 8M1848.3 1342.9h9.6M1853.1 1338.1v9.6M1849.1 1338.9l8 8M1857.1 1338.9l-8 8M1855.9 1337.8h9.6M1860.7 1333.0v9.6M1856.7 1333.8l8 8M1864.7 1333.8l-8 8M1859.7 1337.8h9.6M1864.5 1333.0v9.6M1860.5 1333.8l8 8M1868.5 1333.8l-8 8M1873.8 1354.3h9.6M1878.6 1349.5v9.6M1874.6 1350.3l8 8M1882.6 1350.3l-8 8M1876.3 1346.7h9.6M1881.1 1341.9v9.6M1877.1 1342.7l8 8M1885.1 1342.7l-8 8M1884.0 1328.8h9.6M1888.8 1324.0v9.6M1884.8 1324.8l8 8M1892.8 1324.8l-8 8M1891.6 1331.4h9.6M1896.4 1326.6v9.6M1892.4 1327.4l8 8M1900.4 1327.4l-8 8M1864.8 1316.8h9.6M1869.6 1312.0v9.6M1865.6 1312.8l8 8M1873.6 1312.8l-8 8M1879.4 1304.6h9.6M1884.2 1299.8v9.6M1880.2 1300.6l8 8M1888.2 1300.6l-8 8M1881.4 1300.8h9.6M1886.2 1296.0v9.6M1882.2 1296.8l8 8M1890.2 1296.8l-8 8M1891.6 1291.3h9.6M1896.4 1286.5v9.6M1892.4 1287.3l8 8M1900.4 1287.3l-8 8M1899.3 1290.6h9.6M1904.1 1285.8v9.6M1900.1 1286.6l8 8M1908.1 1286.6l-8 8M1900.6 1282.1h9.6M1905.4 1277.3v9.6M1901.4 1278.1l8 8M1909.4 1278.1l-8 8M1906.9 1275.3h9.6M1911.7 1270.5v9.6M1907.7 1271.3l8 8M1915.7 1271.3l-8 8M1913.3 1272.7h9.6M1918.1 1267.9v9.6M1914.1 1268.7l8 8M1922.1 1268.7l-8 8M1910.8 1286.7h9.6M1915.6 1281.9v9.6M1911.6 1282.7l8 8M1919.6 1282.7l-8 8M1917.1 1280.4h9.6M1921.9 1275.6v9.6M1917.9 1276.4l8 8M1925.9 1276.4l-8 8M1926.1 1281.6h9.6M1930.9 1276.8v9.6M1926.9 1277.6l8 8M1934.9 1277.6l-8 8M1919.7 1290.6h9.6M1924.5 1285.8v9.6M1920.5 1286.6l8 8M1928.5 1286.6l-8 8M1912.0 1294.4h9.6M1916.8 1289.6v9.6M1912.8 1290.4l8 8M1920.8 1290.4l-8 8M1918.4 1298.2h9.6M1923.2 1293.4v9.6M1919.2 1294.2l8 8M1927.2 1294.2l-8 8M1916.4 1312.2h9.6M1921.2 1307.4v9.6M1917.2 1308.2l8 8M1925.2 1308.2l-8 8M1921.0 1258.7h9.6M1925.8 1253.9v9.6M1921.8 1254.7l8 8M1929.8 1254.7l-8 8M1927.3 1258.7h9.6M1932.1 1253.9v9.6M1928.1 1254.7l8 8M1936.1 1254.7l-8 8M1931.2 1258.7h9.6M1936.0 1253.9v9.6M1932.0 1254.7l8 8M1940.0 1254.7l-8 8M1923.5 1263.8h9.6M1928.3 1259.0v9.6M1924.3 1259.8l8 8M1932.3 1259.8l-8 8M1928.6 1266.3h9.6M1933.4 1261.5v9.6M1929.4 1262.3l8 8M1937.4 1262.3l-8 8M1933.7 1267.6h9.6M1938.5 1262.8v9.6M1934.5 1263.6l8 8M1942.5 1263.6l-8 8M1919.7 1262.5h9.6M1924.5 1257.7v9.6M1920.5 1258.5l8 8M1928.5 1258.5l-8 8M1940.1 1244.6h9.6M1944.9 1239.8v9.6M1940.9 1240.6l8 8M1948.9 1240.6l-8 8M1940.1 1233.2h9.6M1944.9 1228.4v9.6M1940.9 1229.2l8 8M1948.9 1229.2l-8 8M1953.4 1230.6h9.6M1958.2 1225.8v9.6M1954.2 1226.6l8 8M1962.2 1226.6l-8 8M1963.1 1228.6h9.6M1967.9 1223.8v9.6M1963.9 1224.6l8 8M1971.9 1224.6l-8 8M1955.4 1207.7h9.6M1960.2 1202.9v9.6M1956.2 1203.7l8 8M1964.2 1203.7l-8 8M1968.2 1202.0h9.6M1973.0 1197.2v9.6M1969.0 1198.0l8 8M1977.0 1198.0l-8 8M2010.8 1231.1h9.6M2015.6 1226.3v9.6M2011.6 1227.1l8 8M2019.6 1227.1l-8 8M2110.8 1015.3h9.6M2115.6 1010.5v9.6M2111.6 1011.3l8 8M2119.6 1011.3l-8 8M2115.1 1040.8h9.6M2119.9 1036.0v9.6M2115.9 1036.8l8 8M2123.9 1036.8l-8 8M2069.2 1046.7h9.6M2074.0 1041.9v9.6M2070.0 1042.7l8 8M2078.0 1042.7l-8 8M2092.1 1051.0h9.6M2096.9 1046.2v9.6M2092.9 1047.0l8 8M2100.9 1047.0l-8 8M2091.6 1060.7h9.6M2096.4 1055.9v9.6M2092.4 1056.7l8 8M2100.4 1056.7l-8 8M2106.4 1062.5h9.6M2111.2 1057.7v9.6M2107.2 1058.5l8 8M2115.2 1058.5l-8 8M2038.1 1067.9h9.6M2042.9 1063.1v9.6M2038.9 1063.9l8 8M2046.9 1063.9l-8 8M2053.4 1067.6h9.6M2058.2 1062.8v9.6M2054.2 1063.6l8 8M2062.2 1063.6l-8 8M2036.8 1113.0h9.6M2041.6 1108.2v9.6M2037.6 1109.0l8 8M2045.6 1109.0l-8 8M2076.8 1124.5h9.6M2081.6 1119.7v9.6M2077.6 1120.5l8 8M2085.6 1120.5l-8 8M2036.0 1139.0h9.6M2040.8 1134.2v9.6M2036.8 1135.0l8 8M2044.8 1135.0l-8 8M2056.7 1157.7h9.6M2061.5 1152.9v9.6M2057.5 1153.7l8 8M2065.5 1153.7l-8 8M2038.6 1165.8h9.6M2043.4 1161.0v9.6M2039.4 1161.8l8 8M2047.4 1161.8l-8 8M2030.4 1169.1h9.6M2035.2 1164.3v9.6M2031.2 1165.1l8 8M2039.2 1165.1l-8 8M2036.0 1176.8h9.6M2040.8 1172.0v9.6M2036.8 1172.8l8 8M2044.8 1172.8l-8 8M2036.3 1188.8h9.6M2041.1 1184.0v9.6M2037.1 1184.8l8 8M2045.1 1184.8l-8 8M2041.4 1199.0h9.6M2046.2 1194.2v9.6M2042.2 1195.0l8 8M2050.2 1195.0l-8 8M1970.5 1170.4h9.6M1975.3 1165.6v9.6M1971.3 1166.4l8 8M1979.3 1166.4l-8 8M1985.0 1193.4h9.6M1989.8 1188.6v9.6M1985.8 1189.4l8 8M1993.8 1189.4l-8 8M1967.9 1201.0h9.6M1972.7 1196.2v9.6M1968.7 1197.0l8 8M1976.7 1197.0l-8 8M1955.7 1207.4h9.6M1960.5 1202.6v9.6M1956.5 1203.4l8 8M1964.5 1203.4l-8 8M2010.5 1230.9h9.6M2015.3 1226.1v9.6M2011.3 1226.9l8 8M2019.3 1226.9l-8 8" stroke="#000" stroke-width="2.5" fill="none"/>
<path d="M1794.3 1495.7L2071 1086.5" stroke="#000" stroke-width="2.7" fill="none"/>
<path d="M1721.6 903H2314.4V1495.7H1721.6Z" fill="none" stroke="#000" stroke-width="3.6" stroke-linejoin="miter"/>
<path d="M1721.6 1495.7h11.5 M2314.4 1495.7h-11.5M1721.6 1466.1h6 M2314.4 1466.1h-6M1721.6 1436.4h6 M2314.4 1436.4h-6M1721.6 1406.8h6 M2314.4 1406.8h-6M1721.6 1377.2h11.5 M2314.4 1377.2h-11.5M1721.6 1347.5h6 M2314.4 1347.5h-6M1721.6 1317.9h6 M2314.4 1317.9h-6M1721.6 1288.3h6 M2314.4 1288.3h-6M1721.6 1258.6h11.5 M2314.4 1258.6h-11.5M1721.6 1229.0h6 M2314.4 1229.0h-6M1721.6 1199.3h6 M2314.4 1199.3h-6M1721.6 1169.7h6 M2314.4 1169.7h-6M1721.6 1140.1h11.5 M2314.4 1140.1h-11.5M1721.6 1110.4h6 M2314.4 1110.4h-6M1721.6 1080.8h6 M2314.4 1080.8h-6M1721.6 1051.2h6 M2314.4 1051.2h-6M1721.6 1021.5h11.5 M2314.4 1021.5h-11.5M1721.6 991.9h6 M2314.4 991.9h-6M1721.6 962.3h6 M2314.4 962.3h-6M1721.6 932.6h6 M2314.4 932.6h-6M1721.6 903.0h11.5 M2314.4 903.0h-11.5M1840.2 1495.7v-11.5 M1840.2 903v11.5M1958.7 1495.7v-11.5 M1958.7 903v11.5M2077.3 1495.7v-11.5 M2077.3 903v11.5M2195.8 1495.7v-11.5 M2195.8 903v11.5M1751.2 1495.7v-6 M1751.2 903v6M1780.9 1495.7v-6 M1780.9 903v6M1810.5 1495.7v-6 M1810.5 903v6M1869.8 1495.7v-6 M1869.8 903v6M1899.4 1495.7v-6 M1899.4 903v6M1929.1 1495.7v-6 M1929.1 903v6M1988.4 1495.7v-6 M1988.4 903v6M2018.0 1495.7v-6 M2018.0 903v6M2047.6 1495.7v-6 M2047.6 903v6M2106.9 1495.7v-6 M2106.9 903v6M2136.6 1495.7v-6 M2136.6 903v6M2166.2 1495.7v-6 M2166.2 903v6M2225.5 1495.7v-6 M2225.5 903v6M2255.1 1495.7v-6 M2255.1 903v6M2284.8 1495.7v-6 M2284.8 903v6" fill="none" stroke="#000" stroke-width="3.2"/>
<text transform="translate(1888.52 862.90) scale(0.8092 1)" font-size="39.60" font-weight="bold" >correlation 0.885</text>
<text transform="translate(1692.53 1496.00) scale(0.8666 1)" font-size="39.60" font-weight="bold" >0</text>
<text transform="translate(1692.71 1391.26) scale(0.8575 1)" font-size="39.60" font-weight="bold" >2</text>
<text transform="translate(1693.44 1272.72) scale(0.7694 1)" font-size="39.60" font-weight="bold" >4</text>
<text transform="translate(1692.63 1154.18) scale(0.8531 1)" font-size="39.60" font-weight="bold" >6</text>
<text transform="translate(1692.82 1035.64) scale(0.8358 1)" font-size="39.60" font-weight="bold" >8</text>
<text transform="translate(1674.41 925.90) scale(0.8447 1)" font-size="39.60" font-weight="bold" >10</text>
<text transform="translate(1712.64 1545.20) scale(0.8559 1)" font-size="39.60" font-weight="bold" >0</text>
<text transform="translate(1830.69 1545.20) scale(0.8733 1)" font-size="39.60" font-weight="bold" >2</text>
<text transform="translate(1949.25 1545.20) scale(0.7599 1)" font-size="39.60" font-weight="bold" >4</text>
<text transform="translate(2066.62 1545.20) scale(0.8636 1)" font-size="39.60" font-weight="bold" >6</text>
<text transform="translate(2185.40 1545.20) scale(0.8512 1)" font-size="39.60" font-weight="bold" >8</text>
<text transform="translate(2296.72 1545.20) scale(0.7996 1)" font-size="39.60" font-weight="bold" >10</text>
<text transform="translate(1830.51 1586.70) scale(0.8208 1)" font-size="39.60" font-weight="bold" >IPS Tomography n (cm</text>
<text transform="translate(2180.06 1570.20) scale(0.8462 1)" font-size="16.00" font-weight="bold" >-3</text>
<text transform="translate(2192.81 1586.70) scale(0.9109 1)" font-size="39.60" font-weight="bold" >)</text>
<text transform="translate(1646.00 1291.58) rotate(-90) scale(0.7850 1)" font-size="39.60" font-weight="bold" >ACE n (cm</text>
<text transform="translate(1627.00 1133.12) rotate(-90) scale(0.9050 1)" font-size="17.00" font-weight="bold" >-3</text>
<text transform="translate(1646.00 1117.58) rotate(-90) scale(0.8568 1)" font-size="39.60" font-weight="bold" >)</text>
</svg></body></html>
